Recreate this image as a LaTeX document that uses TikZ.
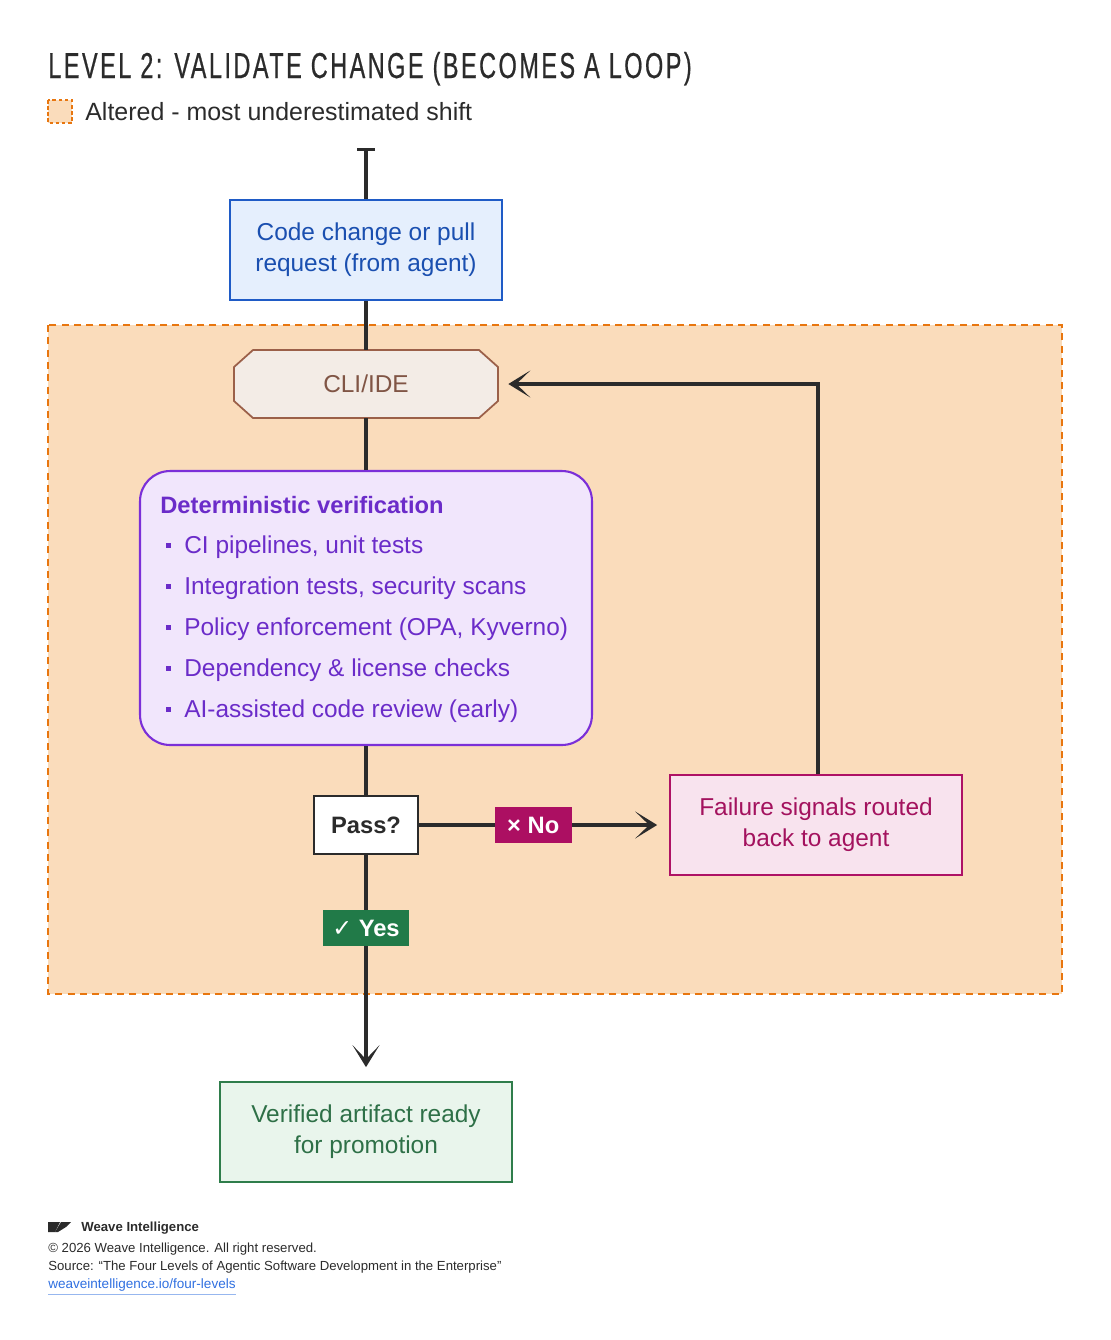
\documentclass[tikz,border=0pt]{standalone}
\usepackage{fontspec}
\setmainfont{Liberation Sans}
\newfontfamily\titlefont[FakeStretch=0.65,LetterSpace=7,FakeBold=0.6]{Liberation Sans}
\newfontfamily\symfont{DejaVu Sans}
\usetikzlibrary{arrows.meta}

\definecolor{ink}{HTML}{2B2B2B}
\definecolor{alterfill}{HTML}{FADCBB}
\definecolor{alterline}{HTML}{E8760F}
\definecolor{changefill}{HTML}{E5EFFD}
\definecolor{changeline}{HTML}{1F5BC6}
\definecolor{changetext}{HTML}{1A4FB0}
\definecolor{clifill}{HTML}{F3ECE6}
\definecolor{cliline}{HTML}{9B6049}
\definecolor{clitext}{HTML}{805545}
\definecolor{veriffill}{HTML}{F1E6FC}
\definecolor{verifline}{HTML}{7B2FD8}
\definecolor{veriftext}{HTML}{6B2CC9}
\definecolor{failfill}{HTML}{F8E3EE}
\definecolor{failline}{HTML}{AE1265}
\definecolor{failtext}{HTML}{A3125E}
\definecolor{nofill}{HTML}{AC0F62}
\definecolor{yesfill}{HTML}{217A48}
\definecolor{donefill}{HTML}{E9F5EC}
\definecolor{doneline}{HTML}{2F7D4B}
\definecolor{donetext}{HTML}{2E7047}
\definecolor{linkblue}{HTML}{2F6FE0}

\begin{document}
\begin{tikzpicture}[x=0.02cm, y=-0.02cm,
    boxfont/.style={font=\fontsize{13.9}{17.6}\selectfont, align=center},
    flowbox/.style={boxfont, draw, line width=1pt, minimum width=5.84cm, minimum height=2cm},
    flow/.style={ink, line width=1.8pt},
    tip/.tip={Stealth[length=0.44cm, width=0.54cm, inset=0.28cm]},
    tag/.style={text=white, font=\bfseries\fontsize{13.5}{15}\selectfont, minimum height=0.72cm, inner sep=0pt},
    item/.style={anchor=base west, inner sep=0pt, text=veriftext, font=\fontsize{13.9}{15}\selectfont},
    bullet/.style={fill=veriftext, minimum size=0.1cm, inner sep=0pt},
    foot/.style={anchor=west, inner sep=0pt, text=ink, font=\fontsize{7.5}{9}\selectfont}]
    \useasboundingbox (0,0) rectangle (1110,1340);

    % Heading
    \node[anchor=base west, inner sep=0pt, text=ink, font=\titlefont\fontsize{20.5}{24}\selectfont] (title) at (48,78) {LEVEL 2: VALIDATE CHANGE (BECOMES A LOOP)};
    \draw[alterline, fill=alterfill, line width=1pt, dash pattern=on 2pt off 1.5pt] (48,100) rectangle (72,123);
    \node[anchor=west, inner sep=0pt, text=ink, font=\fontsize{14.2}{16}\selectfont] (legend) at (85,112) {Altered - most underestimated shift};

    % Altered region
    \draw[alterline, fill=alterfill, line width=1pt, dash pattern=on 4pt off 3pt] (48,325) rectangle (1062,994);

    % CLI outline
    \draw[cliline, fill=clifill, line width=1pt] (253,350) -- (479,350) -- (498,367) -- (498,401) -- (479,418) -- (253,418) -- (234,401) -- (234,367) -- cycle;

    % Boxes
    \coordinate (start) at (366,148);
    \node[flowbox, draw=changeline, fill=changefill, text=changetext, minimum width=5.44cm] (change) at (366,250) {Code change or pull\\request (from agent)};
    \node[boxfont, text=clitext, minimum width=5.28cm, minimum height=1.36cm] (cli) at (366,384) {CLI/IDE};
    \node[draw=verifline, fill=veriffill, line width=1.2pt, rounded corners=0.6cm, minimum width=9.04cm, minimum height=5.48cm] (verif) at (366,608) {};
    \node[anchor=base west, text=veriftext, font=\bfseries\fontsize{13.5}{15}\selectfont, inner sep=0pt] (veriftitle) at (160,513) {Deterministic verification};
    \node[bullet] (b1) at (168,545) {};
    \node[item] (i1) at (184,553) {CI pipelines, unit tests};
    \node[bullet] (b2) at (168,586) {};
    \node[item] (i2) at (184,594) {Integration tests, security scans};
    \node[bullet] (b3) at (168,627) {};
    \node[item] (i3) at (184,635) {Policy enforcement (OPA, Kyverno)};
    \node[bullet] (b4) at (168,668) {};
    \node[item] (i4) at (184,676) {Dependency \& license checks};
    \node[bullet] (b5) at (168,709) {};
    \node[item] (i5) at (184,717) {AI-assisted code review (early)};
    \node[draw=ink, fill=white, line width=1pt, font=\bfseries\fontsize{13.5}{15}\selectfont, text=ink, minimum width=2.08cm, minimum height=1.16cm] (pass) at (366,825) {Pass?};
    \node[flowbox, draw=failline, fill=failfill, text=failtext] (fail) at (816,825) {Failure signals routed\\back to agent};
    \node[flowbox, draw=doneline, fill=donefill, text=donetext] (done) at (366,1132) {Verified artifact ready\\for promotion};

    % Connectors
    \draw[flow, {Bar[width=0.36cm]}-] (start) -- (change);
    \draw[flow] (change) -- (cli);
    \draw[flow] (cli) -- (verif);
    \draw[flow] (verif) -- (pass);
    \draw[flow, -tip] (pass) -- ([xshift=-0.24cm]fail.west) node[tag, fill=nofill, minimum width=1.54cm, pos=0.48] (no) {× No};
    \draw[flow, -tip] (pass) -- ([yshift=0.28cm]done.north) node[tag, fill=yesfill, minimum width=1.74cm, pos=0.346] (yes) {{\symfont\mdseries ✓} Yes};
    \draw[flow, -tip] ([xshift=0.04cm]fail.north) |- ([xshift=0.2cm]cli.east);

    % Footer
    \fill[ink] (48,1222) -- (60,1222) -- (55,1232) -- (48,1232) -- cycle;
    \fill[ink] (61,1222) -- (71,1222) -- (66,1227) -- (58,1232) -- (55,1232) -- cycle;
    \node[foot, font=\bfseries\fontsize{7.5}{9}\selectfont] (brand) at (81,1228) {Weave Intelligence};
    \node[foot] (copy) at (48,1249) {© 2026 Weave Intelligence. All right reserved.};
    \node[foot] (source) at (48,1267) {Source: “The Four Levels of Agentic Software Development in the Enterprise”};
    \node[foot, text=linkblue, font=\fontsize{7.7}{9}\selectfont] (link) at (48,1285) {weaveintelligence.io/four-levels};
    \draw[linkblue!50, line width=0.5pt] ([yshift=-1.6pt]link.south west) -- ([yshift=-1.6pt]link.south east);
\end{tikzpicture}
\end{document}
